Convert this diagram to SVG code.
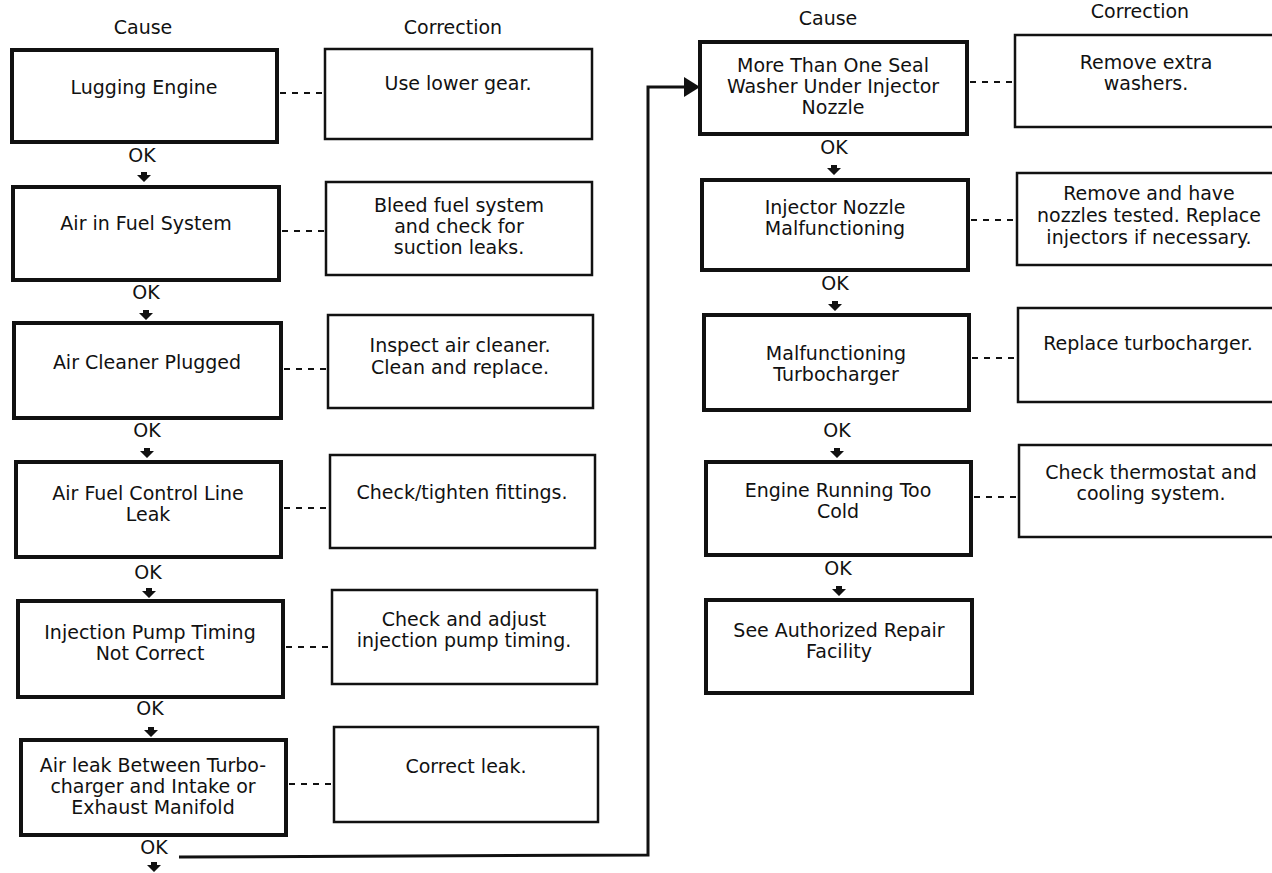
<svg xmlns="http://www.w3.org/2000/svg" xmlns:xlink="http://www.w3.org/1999/xlink" width="1272" height="873" viewBox="0 0 1272 873">
<style>
text{font-family:"DejaVu Sans","Liberation Sans",sans-serif;font-size:19px;fill:#111;text-anchor:middle}
.cause{fill:#fff;stroke:#111;stroke-width:4}
.corr{fill:#fff;stroke:#111;stroke-width:2.5}
.dash{stroke:#111;stroke-width:2;stroke-dasharray:6 6;fill:none}
.loop{stroke:#111;stroke-width:3;fill:none}
.ah{fill:#111}
</style>
<defs>
<path id="dn" d="M-3,-5 L3,-5 L3,-2 L7,-2 L0,5 L-7,-2 L-3,-2 Z" class="ah"/>
</defs>
<rect width="1272" height="873" fill="#fff"/>

<g id="headers">
<text x="143" y="34">Cause</text>
<text x="453" y="34">Correction</text>
<text x="828" y="25">Cause</text>
<text x="1140" y="18">Correction</text>
</g>

<g id="connectors">
<line class="dash" x1="280" y1="93" x2="325" y2="93"/>
<line class="dash" x1="282" y1="231" x2="326" y2="231"/>
<line class="dash" x1="284" y1="369" x2="328" y2="369"/>
<line class="dash" x1="284" y1="508" x2="330" y2="508"/>
<line class="dash" x1="286" y1="647" x2="332" y2="647"/>
<line class="dash" x1="289" y1="784" x2="334" y2="784"/>
<line class="dash" x1="970" y1="82" x2="1015" y2="82"/>
<line class="dash" x1="971" y1="220" x2="1017" y2="220"/>
<line class="dash" x1="972" y1="358" x2="1018" y2="358"/>
<line class="dash" x1="974" y1="497" x2="1019" y2="497"/>
<text x="142" y="162">OK</text>
<text x="146" y="299">OK</text>
<text x="147" y="437">OK</text>
<text x="148" y="579">OK</text>
<text x="150" y="715">OK</text>
<text x="154" y="854">OK</text>
<text x="834" y="154">OK</text>
<text x="835" y="290">OK</text>
<text x="837" y="437">OK</text>
<text x="838" y="575">OK</text>
<use xlink:href="#dn" x="144" y="177"/>
<use xlink:href="#dn" x="146" y="315"/>
<use xlink:href="#dn" x="147" y="453"/>
<use xlink:href="#dn" x="149" y="593"/>
<use xlink:href="#dn" x="151" y="732"/>
<use xlink:href="#dn" x="154" y="867"/>
<use xlink:href="#dn" x="834" y="170"/>
<use xlink:href="#dn" x="835" y="306"/>
<use xlink:href="#dn" x="837" y="453"/>
<use xlink:href="#dn" x="839" y="591"/>
<polyline class="loop" points="179,857 648,855 648,87 688,87"/>
<polygon class="ah" points="684,77 700,87 684,97"/>
</g>

<g id="c1"><rect class="cause" x="12" y="50" width="265" height="92"/><text x="144" y="94">Lugging Engine</text></g>
<g id="c2"><rect class="cause" x="13" y="187" width="266" height="93"/><text x="146" y="230">Air in Fuel System</text></g>
<g id="c3"><rect class="cause" x="14" y="323" width="267" height="95"/><text x="147" y="369">Air Cleaner Plugged</text></g>
<g id="c4"><rect class="cause" x="16" y="462" width="265" height="95"/><text x="148" y="500">Air Fuel Control Line</text><text x="148" y="521">Leak</text></g>
<g id="c5"><rect class="cause" x="18" y="601" width="265" height="96"/><text x="150" y="639">Injection Pump Timing</text><text x="150" y="660">Not Correct</text></g>
<g id="c6"><rect class="cause" x="21" y="740" width="265" height="95"/><text x="153" y="772">Air leak Between Turbo-</text><text x="153" y="793">charger and Intake or</text><text x="153" y="814">Exhaust Manifold</text></g>

<g id="k1"><rect class="corr" x="325" y="49" width="267" height="90"/><text x="458" y="90">Use lower gear.</text></g>
<g id="k2"><rect class="corr" x="326" y="182" width="266" height="93"/><text x="459" y="212">Bleed fuel system</text><text x="459" y="233">and check for</text><text x="459" y="254">suction leaks.</text></g>
<g id="k3"><rect class="corr" x="328" y="315" width="265" height="93"/><text x="460" y="352">Inspect air cleaner.</text><text x="460" y="374">Clean and replace.</text></g>
<g id="k4"><rect class="corr" x="330" y="455" width="265" height="93"/><text x="462" y="499">Check/tighten fittings.</text></g>
<g id="k5"><rect class="corr" x="332" y="590" width="265" height="94"/><text x="464" y="626">Check and adjust</text><text x="464" y="647">injection pump timing.</text></g>
<g id="k6"><rect class="corr" x="334" y="727" width="264" height="95"/><text x="466" y="773">Correct leak.</text></g>

<g id="r1"><rect class="cause" x="700" y="42" width="267" height="92"/><text x="833" y="72">More Than One Seal</text><text x="833" y="93">Washer Under Injector</text><text x="833" y="114">Nozzle</text></g>
<g id="r2"><rect class="cause" x="702" y="180" width="266" height="90"/><text x="835" y="214">Injector Nozzle</text><text x="835" y="235">Malfunctioning</text></g>
<g id="r3"><rect class="cause" x="704" y="315" width="265" height="95"/><text x="836" y="360">Malfunctioning</text><text x="836" y="381">Turbocharger</text></g>
<g id="r4"><rect class="cause" x="706" y="462" width="265" height="93"/><text x="838" y="497">Engine Running Too</text><text x="838" y="518">Cold</text></g>
<g id="r5"><rect class="cause" x="706" y="600" width="266" height="93"/><text x="839" y="637">See Authorized Repair</text><text x="839" y="658">Facility</text></g>

<g id="s1"><rect class="corr" x="1015" y="35" width="270" height="92"/><text x="1146" y="69">Remove extra</text><text x="1146" y="90">washers.</text></g>
<g id="s2"><rect class="corr" x="1017" y="173" width="268" height="92"/><text x="1149" y="200">Remove and have</text><text x="1149" y="222">nozzles tested. Replace</text><text x="1149" y="244">injectors if necessary.</text></g>
<g id="s3"><rect class="corr" x="1018" y="308" width="267" height="94"/><text x="1148" y="350">Replace turbocharger.</text></g>
<g id="s4"><rect class="corr" x="1019" y="445" width="266" height="92"/><text x="1151" y="479">Check thermostat and</text><text x="1151" y="500">cooling system.</text></g>
</svg>
